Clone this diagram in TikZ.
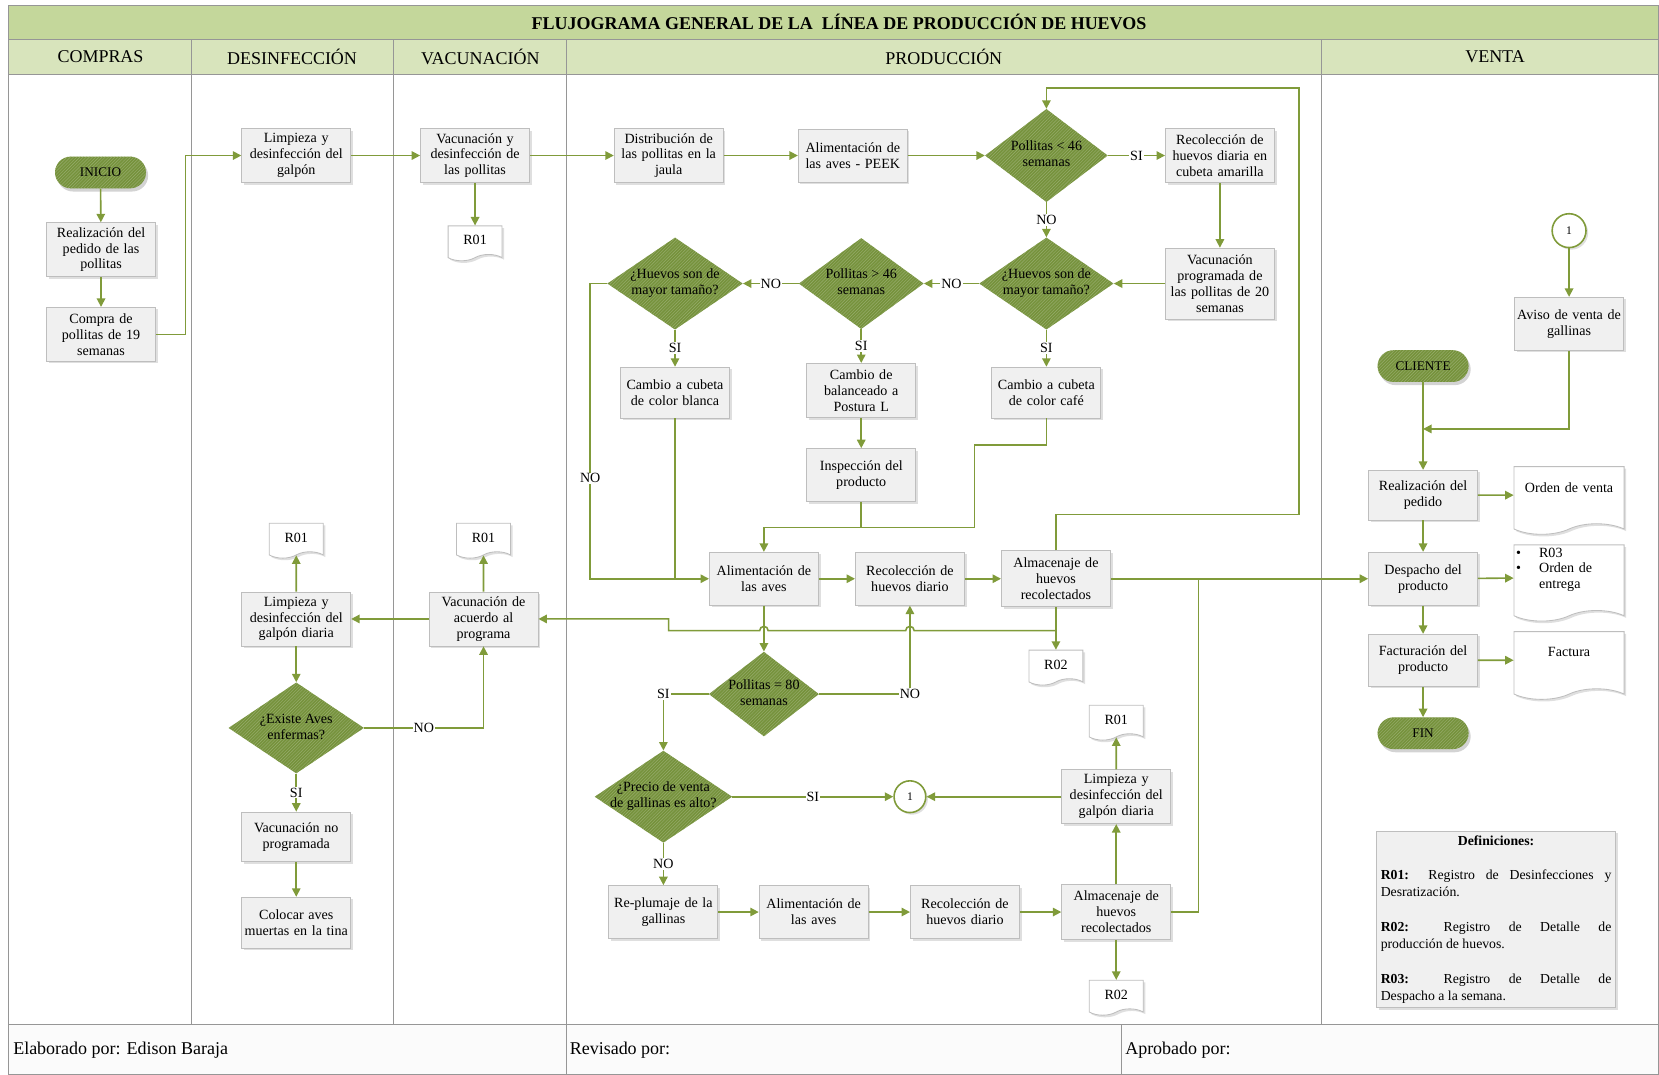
\documentclass[tikz,border=0pt]{standalone}
\usepackage{fontspec}
\setmainfont{Liberation Serif}
\usetikzlibrary{shapes.geometric,shapes.symbols,arrows.meta,shadows,patterns}

\definecolor{olivefill}{RGB}{118,146,60}
\definecolor{oliveline}{RGB}{128,155,58}
\definecolor{titlegreen}{RGB}{196,215,155}
\definecolor{headgreen}{RGB}{216,228,188}
\definecolor{boxfill}{RGB}{240,240,240}
\definecolor{boxline}{RGB}{190,190,190}
\definecolor{laneline}{RGB}{150,150,150}
\definecolor{footfill}{RGB}{251,251,251}

\newcommand\boxfont{\fontsize{13.3}{15}\selectfont}
\newcommand\headfont{\fontsize{17}{19}\selectfont}
\newcommand\dtext[1]{\makebox[0pt]{\begin{tabular}{@{}c@{}}#1\end{tabular}}}

\tikzset{
  lane/.style = {draw=laneline, line width=0.8pt},
  boxshadow/.style = {drop shadow={opacity=0.25, shadow xshift=2pt, shadow yshift=-2pt}},
  proc/.style = {rectangle, draw=boxline, fill=boxfill, line width=0.8pt,
                 text width=100pt, inner xsep=1.5pt, inner ysep=1pt,
                 minimum height=51pt, align=center, font=\boxfont, boxshadow},
  decision/.style 2 args = {diamond, fill=olivefill, minimum width=#1,
                 minimum height=#2, inner sep=0pt, font=\boxfont,
                 postaction={pattern=north east lines, pattern color=olivefill!75!white}},
  term/.style = {rectangle, rounded corners=15pt, fill=olivefill, minimum width=86pt,
                 minimum height=30pt, font=\fontsize{12.5}{14}\selectfont,
                 drop shadow={opacity=0.35, shadow xshift=2pt, shadow yshift=-3pt},
                 postaction={pattern=north east lines, pattern color=olivefill!75!white}},
  doc/.style = {tape, tape bend top=none, tape bend bottom=in and out,
                tape bend height=6pt, draw=boxline, fill=white, line width=0.8pt,
                minimum width=51pt, minimum height=33pt, inner sep=1pt,
                font=\boxfont, boxshadow},
  bigdoc/.style = {doc, minimum width=104pt, minimum height=64pt,
                   tape bend height=10pt, text width=100pt, align=center},
  conn/.style = {circle, draw=oliveline, fill=white, line width=1.5pt,
                 minimum size=30pt, inner sep=0pt, font=\fontsize{11}{13}\selectfont, boxshadow},
  defs/.style = {rectangle, draw=boxline, fill=boxfill, line width=0.8pt,
                 text width=218pt, inner sep=4pt, align=justify,
                 font=\fontsize{13}{16}\selectfont, boxshadow},
  flow/.style = {draw=oliveline, line width=1.5pt, -{Triangle[length=8pt,width=8pt]}},
  link/.style = {draw=oliveline, line width=1.5pt},
  lbl/.style = {fill=white, inner sep=1pt, font=\boxfont}
}

\begin{document}
\begin{tikzpicture}[x=1pt,y=-1pt]
	\useasboundingbox (0,0) rectangle (1568,1016);

	% Frame and lanes
	\fill[titlegreen] (8,5) rectangle (1567,37);
	\fill[headgreen] (8,37) rectangle (1567,70);
	\fill[footfill] (8,968) rectangle (1567,1016);
	\draw[lane] (8,5) rectangle (1567,1015.5);
	\draw[lane] (8,37) -- (1567,37);
	\draw[lane] (8,70) -- (1567,70);
	\draw[lane] (8,968) -- (1567,968);
	\foreach \x in {181,372,535,1249}
		\draw[lane] (\x,37) -- (\x,968);
	\foreach \x in {535,1060}
		\draw[lane] (\x,968) -- (\x,1016);

	% Titles
	\node[font=\fontsize{17}{19}\selectfont\bfseries] (title) at (793,21) {FLUJOGRAMA GENERAL DE LA~ LÍNEA DE PRODUCCIÓN DE HUEVOS};
	\node[font=\headfont] (hcompras) at (95,53.5) {COMPRAS};
	\node[font=\headfont] (hdesinf) at (276,53.5) {DESINFECCIÓN};
	\node[font=\headfont] (hvacuna) at (454,53.5) {VACUNACIÓN};
	\node[font=\headfont] (hprod) at (892,53.5) {PRODUCCIÓN};
	\node[font=\headfont] (hventa) at (1413,53.5) {VENTA};

	% Footer
	\node[anchor=west, font=\headfont] (elaborado) at (9,993) {Elaborado por: Edison Baraja};
	\node[anchor=west, font=\headfont] (revisado) at (535,993) {Revisado por:};
	\node[anchor=west, font=\headfont] (aprobado) at (1060,993) {Aprobado por:};

	% Compras
	\node[term] (inicio) at (95,163) {INICIO};
	\node[proc] (pedido) at (95.5,236) {Realización del\\pedido de las\\pollitas};
	\node[proc] (compra) at (95.5,316) {Compra de\\pollitas de 19\\semanas};

	% Desinfeccion
	\node[proc] (limp1) at (280,147) {Limpieza y\\desinfección del\\galpón};
	\node[doc] (r01a) at (280,508) {R01};
	\node[proc] (limp2) at (280,585) {Limpieza y\\desinfección del\\galpón diaria};
	\node[decision={128pt}{86pt}] (enfermas) at (280,688) {\dtext{¿Existe Aves\\enfermas?}};
	\node[proc, minimum height=47pt] (vacno) at (280,791) {Vacunación no\\programada};
	\node[proc, minimum height=48pt] (colocar) at (280,872) {Colocar aves\\muertas en la tina};

	% Vacunacion
	\node[proc] (vacdes) at (449,147) {Vacunación y\\desinfección de\\las pollitas};
	\node[doc] (r01b) at (449,227) {R01};
	\node[doc] (r01c) at (457,508) {R01};
	\node[proc] (vacprog) at (457,585) {Vacunación de\\acuerdo al\\programa};

	% Produccion
	\node[proc] (distrib) at (632,147) {Distribución de\\las pollitas en la\\jaula};
	\node[proc, minimum height=50pt] (peek) at (806,147) {Alimentación de\\las aves - PEEK};
	\node[decision={116pt}{88pt}] (menor46) at (989,147) {\dtext{Pollitas < 46\\semanas}};
	\node[proc] (amarilla) at (1153,147) {Recolección de\\huevos diaria en\\cubeta amarilla};
	\node[proc, minimum height=67pt] (vac20) at (1153,268) {Vacunación\\programada de\\las pollitas de 20\\semanas};
	\node[decision={127pt}{87pt}] (tam1) at (989,268) {\dtext{¿Huevos son de\\mayor tamaño?}};
	\node[decision={118pt}{86pt}] (mayor46) at (814,268) {\dtext{Pollitas > 46\\semanas}};
	\node[decision={128pt}{87pt}] (tam2) at (638,268) {\dtext{¿Huevos son de\\mayor tamaño?}};
	\node[proc, minimum height=48pt] (blanca) at (638,371) {Cambio a cubeta\\de color blanca};
	\node[proc] (balanceado) at (814,369) {Cambio de\\balanceado a\\Postura L};
	\node[proc, minimum height=48pt] (cafe) at (989,371) {Cambio a cubeta\\de color café};
	\node[proc, minimum height=50pt] (inspeccion) at (814,449) {Inspección del\\producto};
	\node[proc, minimum height=50pt] (alim1) at (722,547) {Alimentación de\\las aves};
	\node[proc, minimum height=50pt] (recol1) at (860,547) {Recolección de\\huevos diario};
	\node[proc, minimum height=53pt] (almac1) at (998,547) {Almacenaje de\\huevos\\recolectados};
	\node[doc] (r02a) at (998,628) {R02};
	\node[decision={104pt}{80pt}] (igual80) at (722,656) {\dtext{Pollitas = 80\\semanas}};
	\node[decision={130pt}{87pt}] (precio) at (627,753) {\dtext{¿Precio de venta\\de gallinas es alto?}};
	\node[conn] (c1a) at (860,753) {1};
	\node[doc] (r01d) at (1055,680) {R01};
	\node[proc] (limp3) at (1055,753) {Limpieza y\\desinfección del\\galpón diaria};
	\node[proc, minimum height=50pt] (replumaje) at (627,862) {Re-plumaje de la\\gallinas};
	\node[proc, minimum height=50pt] (alim2) at (769,862) {Alimentación de\\las aves};
	\node[proc, minimum height=50pt] (recol2) at (912,862) {Recolección de\\huevos diario};
	\node[proc, minimum height=52pt] (almac2) at (1055,862) {Almacenaje de\\huevos\\recolectados};
	\node[doc] (r02b) at (1055,940) {R02};
	\coordinate (jret) at (998,596);

	% Venta
	\node[conn, minimum size=32pt] (c1b) at (1483,218) {1};
	\node[proc, minimum height=50pt] (aviso) at (1483,306) {Aviso de venta de\\gallinas};
	\node[term] (cliente) at (1345,346) {CLIENTE};
	\node[proc, minimum height=47pt] (realped) at (1345,468) {Realización del\\pedido};
	\node[proc, minimum height=50pt] (despacho) at (1345,547) {Despacho del\\producto};
	\node[proc, minimum height=49pt] (factura) at (1345,624) {Facturación del\\producto};
	\node[term] (fin) at (1345,693) {FIN};
	\node[bigdoc] (ordenventa) at (1483,468) {Orden de venta\\\mbox{}};
	\node[bigdoc, align=left] (entrega) at (1483,546) {\begin{tabular}{@{}l@{\hspace{17pt}}l@{}}\textbullet & R03\\ \textbullet & Orden de\\ & entrega\\ & \end{tabular}};
	\node[bigdoc] (facturadoc) at (1483,624) {Factura\\\mbox{}};

	% Definiciones
	\node[defs] (definiciones) at (1414,869) {{\centering\textbf{Definiciones:}\par}
		\vspace{17pt}
		\textbf{R01:} Registro de Desinfecciones y\linebreak Desratización.\par
		\vspace{17pt}
		\textbf{R02:} Registro de Detalle de\linebreak producción de huevos.\par
		\vspace{17pt}
		\textbf{R03:} Registro de Detalle de\linebreak Despacho a la semana.};

	% Flujo compras
	\draw[flow] (inicio) -- (pedido);
	\draw[flow] (pedido) -- (compra);
	\draw[flow] (compra.east) -- ++(28,0) |- (limp1.west);

	% Flujo desinfeccion y vacunacion
	\draw[flow] (limp1) -- (vacdes);
	\draw[flow] (vacdes) -- (distrib);
	\draw[flow] (vacdes) -- (r01b);
	\draw[flow] (limp2) -- (r01a);
	\draw[flow] (vacprog) -- (r01c);
	\draw[flow] (vacprog) -- (limp2);
	\draw[flow] (limp2) -- (enfermas);
	\draw[flow] (enfermas) -- node[lbl]{SI} (vacno);
	\draw[flow] (vacno) -- (colocar);
	\draw[flow] (enfermas.east) -| node[lbl, pos=0.25]{NO} (vacprog.south);

	% Flujo produccion
	\draw[flow] (distrib) -- (peek);
	\draw[flow] (peek) -- (menor46);
	\draw[flow] (menor46) -- node[lbl]{SI} (amarilla);
	\draw[flow] (amarilla) -- (vac20);
	\draw[flow] (vac20) -- (tam1);
	\draw[flow] (menor46) -- node[lbl]{NO} (tam1);
	\draw[flow] (tam1) -- node[lbl]{NO} (mayor46);
	\draw[flow] (mayor46) -- node[lbl]{NO} (tam2);
	\draw[flow] (tam1) -- node[lbl]{SI} (cafe);
	\draw[flow] (mayor46) -- node[lbl]{SI} (balanceado);
	\draw[flow] (tam2) -- node[lbl]{SI} (blanca);
	\draw[flow] (balanceado) -- (inspeccion);
	\draw[flow] (tam2.west) -- ++(-16,0) |- node[lbl, pos=0.33]{NO} (alim1.west);
	\draw[link] (blanca.south) -- (blanca.south |- alim1.west);
	\draw[flow] (cafe.south) -- ++(0,25) -| ++(-68,78) -| (alim1.north);
	\draw[link] (inspeccion.south) -- ++(0,24);
	\draw[flow] (alim1) -- (recol1);
	\draw[flow] (recol1) -- (almac1);
	\draw[flow] (almac1) -- (r02a);
	\draw[flow] (almac1.north) -- ++(0,-34) -| ++(230,-403) -| (menor46.north);
	\draw[flow] (almac1) -- (despacho);
	\draw[link] (almac2.east) -- ++(26,0) -- ++(0,-315);
	\draw[flow] (jret) -- (864,596) arc[start angle=0, end angle=-180, radius=4]
		-- (726,596) arc[start angle=0, end angle=-180, radius=4]
		-- (632,596) -- (632,585) -- (vacprog.east);
	\draw[flow] (alim1) -- (igual80);
	\draw[flow] (igual80.east) -| node[lbl, pos=0.5]{NO} (recol1.south);
	\draw[flow] (igual80.west) -| node[lbl, pos=0.5]{SI} (precio.north);
	\draw[flow] (precio) -- node[lbl]{SI} (c1a);
	\draw[flow] (limp3) -- (c1a);
	\draw[flow] (limp3) -- (r01d);
	\draw[flow] (precio) -- node[lbl]{NO} (replumaje);
	\draw[flow] (replumaje) -- (alim2);
	\draw[flow] (alim2) -- (recol2);
	\draw[flow] (recol2) -- (almac2);
	\draw[flow] (almac2) -- (limp3);
	\draw[flow] (almac2) -- (r02b);

	% Flujo venta
	\draw[flow] (c1b) -- (aviso);
	\draw[flow] (aviso.south) |- ++(-138,74);
	\draw[flow] (cliente) -- (realped);
	\draw[flow] (realped) -- (despacho);
	\draw[flow] (despacho) -- (factura);
	\draw[flow] (factura) -- (fin);
	\draw[flow] (realped) -- (ordenventa);
	\draw[flow] (despacho) -- (entrega);
	\draw[flow] (factura) -- (facturadoc);

\end{tikzpicture}
\end{document}
